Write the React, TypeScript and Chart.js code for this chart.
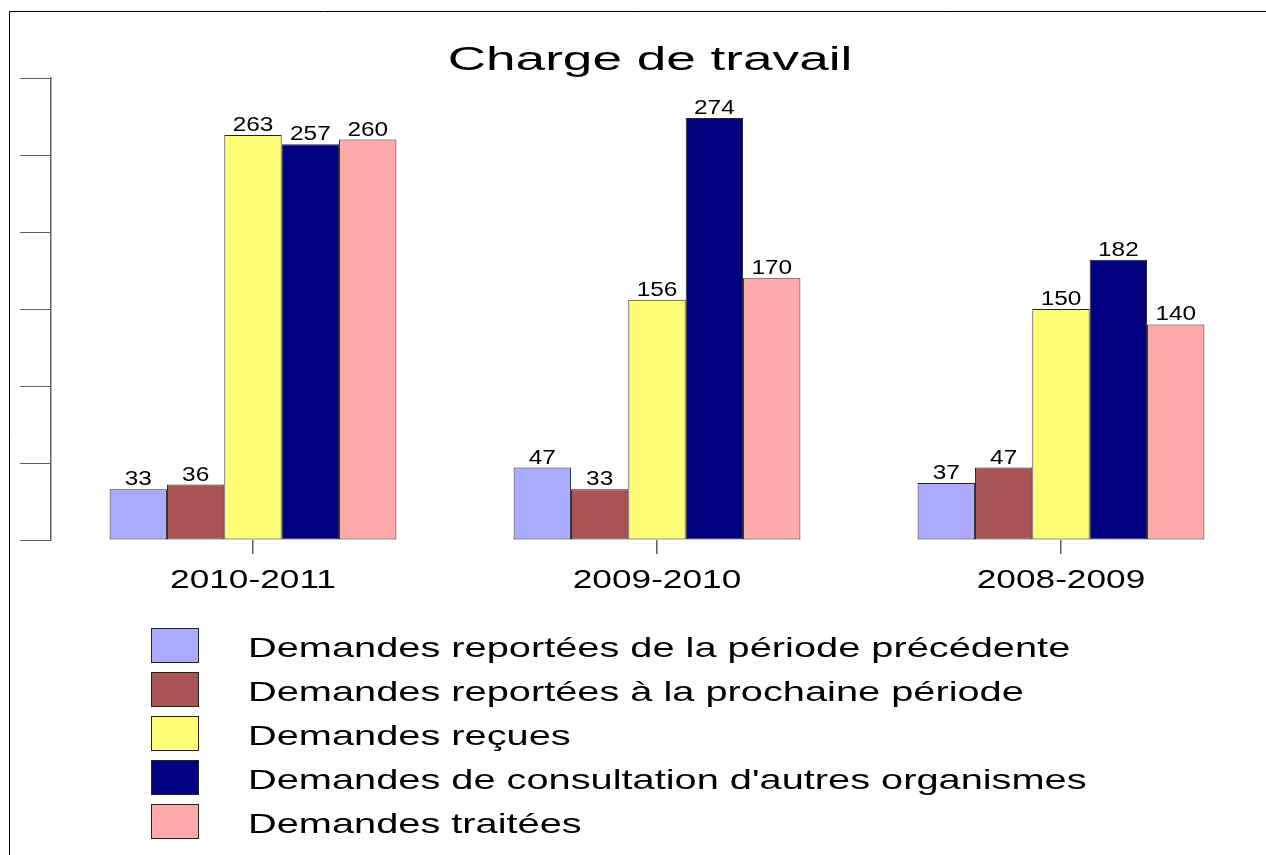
import React, { useEffect, useRef } from 'react';
import { Chart, registerables } from 'chart.js';

Chart.register(...registerables);

const chartTitle = 'Charge de travail';
const categories = ['2010-2011', '2009-2010', '2008-2009'];
const seriesNames = [
  'Demandes reportées de la période précédente',
  'Demandes reportées à la prochaine période',
  'Demandes reçues',
  "Demandes de consultation d'autres organismes",
  'Demandes traitées',
];
const reporteesPrecedente = [33, 47, 37];
const reporteesProchaine = [36, 33, 47];
const recues = [263, 156, 150];
const consultation = [257, 274, 182];
const traitees = [260, 170, 140];
const seriesValues = [reporteesPrecedente, reporteesProchaine, recues, consultation, traitees];
const seriesColors = ['#aaaaff', '#aa5555', '#ffff77', '#000080', '#ffaaaa'];
const yMin = 0;
const yMax = 300;
const yStep = 50;

const FONT = '"Liberation Sans", Arial, Helvetica, sans-serif';

function drawStretched(
  ctx: CanvasRenderingContext2D,
  text: string,
  x: number,
  y: number,
  size: number,
  sx: number,
  align: 'left' | 'center'
) {
  ctx.save();
  ctx.font = `${size}px ${FONT}`;
  ctx.textBaseline = 'alphabetic';
  ctx.textAlign = 'left';
  const w = ctx.measureText(text).width * sx;
  const x0 = align === 'center' ? x - w / 2 : x;
  ctx.translate(x0, y);
  ctx.scale(sx, 1);
  ctx.fillStyle = '#000000';
  ctx.fillText(text, 0, 0);
  ctx.restore();
}

const framePlugin = {
  id: 'frame',
  beforeDraw(chart: any) {
    const ctx = chart.ctx as CanvasRenderingContext2D;
    ctx.save();
    ctx.fillStyle = '#ffffff';
    ctx.fillRect(0, 0, chart.width, chart.height);
    ctx.strokeStyle = '#000000';
    ctx.lineWidth = 1;
    ctx.beginPath();
    ctx.moveTo(9.5, chart.height);
    ctx.lineTo(9.5, 11.5);
    ctx.lineTo(chart.width, 11.5);
    ctx.stroke();
    ctx.restore();
  },
};

const labelsPlugin = {
  id: 'customText',
  afterDatasetsDraw(chart: any) {
    const ctx = chart.ctx as CanvasRenderingContext2D;
    chart.data.datasets.forEach((ds: any, i: number) => {
      const meta = chart.getDatasetMeta(i);
      meta.data.forEach((el: any, j: number) => {
        drawStretched(ctx, String(ds.data[j]), el.x, el.y - 4, 20, 1.22, 'center');
      });
    });
  },
  afterDraw(chart: any) {
    const ctx = chart.ctx as CanvasRenderingContext2D;
    // title
    drawStretched(ctx, chartTitle, 650, 70, 33, 1.61, 'center');
    // x category labels
    const xs = chart.scales.x;
    categories.forEach((c, i) => {
      drawStretched(ctx, c, xs.getPixelForTick(i), 588, 25, 1.41, 'center');
    });
    // legend
    seriesNames.forEach((name, i) => {
      const top = 628 + 44 * i;
      ctx.save();
      ctx.fillStyle = seriesColors[i];
      ctx.fillRect(151, top, 48, 35);
      ctx.strokeStyle = '#222222';
      ctx.lineWidth = 1;
      ctx.strokeRect(151.5, top + 0.5, 47, 34);
      ctx.restore();
      drawStretched(ctx, name, 248, top + 29, 28, 1.42, 'left');
    });
  },
};

export default function App() {
  const ref = useRef<HTMLCanvasElement>(null);
  useEffect(() => {
    document.body.style.margin = '0';
    document.body.style.overflow = 'hidden';
    const canvas = ref.current!;
    const chart = new Chart(canvas, {
      type: 'bar',
      data: {
        labels: categories,
        datasets: seriesNames.map((name, i) => ({
          label: name,
          data: seriesValues[i],
          backgroundColor: seriesColors[i],
          borderColor: '#222222',
          borderWidth: 1,
          borderSkipped: false,
          categoryPercentage: 0.71,
          barPercentage: 1,
        })),
      },
      options: {
        responsive: false,
        animation: false,
        devicePixelRatio: 1,
        layout: { padding: { left: 20, right: 3, top: 78, bottom: 301 } },
        plugins: {
          legend: { display: false },
          title: { display: false },
          tooltip: { enabled: false },
        },
        scales: {
          x: {
            ticks: { display: false },
            grid: {
              display: true,
              drawOnChartArea: false,
              drawTicks: true,
              tickLength: 14,
              offset: false,
              color: '#5e5e5e',
              lineWidth: 1.5,
            },
            border: { display: false },
          },
          y: {
            min: yMin,
            max: yMax,
            ticks: { display: false, stepSize: yStep },
            grid: {
              display: true,
              drawOnChartArea: false,
              drawTicks: true,
              tickLength: 31,
              color: '#5e5e5e',
              lineWidth: 1,
            },
            border: { display: true, color: '#5e5e5e', width: 1.5 },
          },
        },
      },
      plugins: [framePlugin, labelsPlugin],
    });
    return () => chart.destroy();
  }, []);
  return <canvas ref={ref} width={1266} height={855} style={{ display: 'block' }} />;
}
